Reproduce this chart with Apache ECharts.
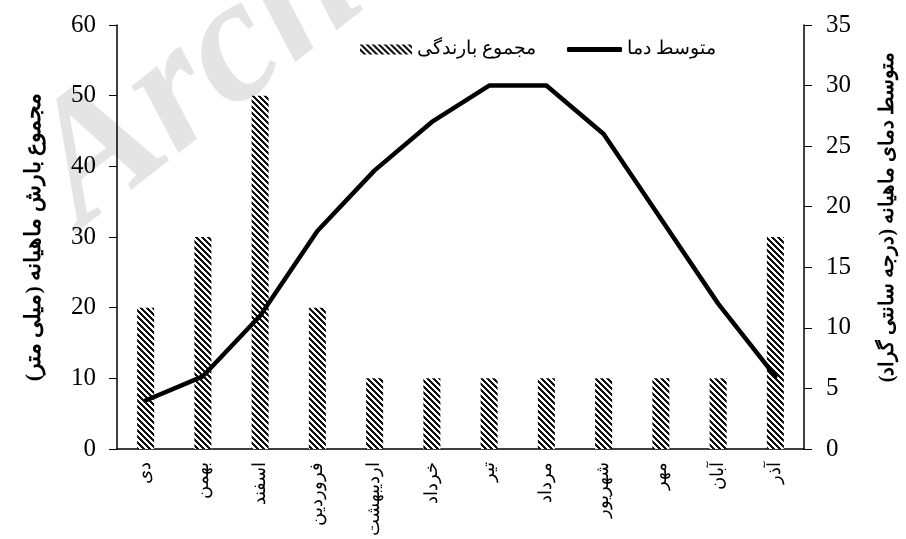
<!DOCTYPE html>
<html>
<head>
<meta charset="utf-8">
<script src="https://cdn.jsdelivr.net/npm/echarts@6/dist/echarts.min.js"></script>
<style>
html,body{margin:0;padding:0;background:#fff;}
#chart{width:906px;height:539px;}
</style>
</head>
<body>
<div id="chart"></div>
<script>
const months = ['دی','بهمن','اسفند','فروردین','اردیبهشت','خرداد','تیر','مرداد','شهریور','مهر','آبان','آذر'];
const rainfall = [20,30,50,20,10,10,10,10,10,10,10,30];
const temperature = [4,6,11,18,23,27,30,30,26,19,12,6];
const leftTicks = {min:0, max:60, interval:10};
const rightTicks = {min:0, max:35, interval:5};
const rainName = 'مجموع بارندگی';
const tempName = 'متوسط دما';
const leftTitle = 'مجموع بارش ماهیانه (میلی متر)';
const rightTitle = 'متوسط دمای ماهیانه (درجه سانتی گراد)';
const watermark = 'Archive';

function stripePattern(){
  const c = document.createElement('canvas');
  const n = 6;
  c.width = n; c.height = n;
  const ctx = c.getContext('2d');
  ctx.fillStyle = '#fff';
  ctx.fillRect(0,0,n,n);
  ctx.fillStyle = '#111';
  for (let y=0;y<n;y++){
    for (let x=0;x<n;x++){
      if ((((x - y) % n) + n) % n < 3) ctx.fillRect(x,y,1,1);
    }
  }
  return c;
}
const pat = stripePattern();

const chart = echarts.init(document.getElementById('chart'));
const serif = "'Liberation Serif', 'Times New Roman', serif";
chart.setOption({
  animation:false,
  backgroundColor:'#fff',
  textStyle:{fontFamily:serif},
  graphic:[{
    type:'text', x:108, y:262, rotation:0.66, z:-10, silent:true,
    style:{text:watermark, fill:'#e4e4e4', font:"italic bold 178px 'Liberation Serif'", textVerticalAlign:'bottom', textAlign:'left'}
  }],
  legend:[{
    left:360, top:40, padding:0, itemWidth:52, itemHeight:10,
    textStyle:{fontSize:19, color:'#000', fontFamily:serif},
    data:[{name:rainName, icon:'rect'}]
  },{
    left:567, top:40, padding:0, itemWidth:55, itemHeight:5,
    textStyle:{fontSize:19, color:'#000', fontFamily:serif},
    data:[{name:tempName, icon:'roundRect'}]
  }],
  grid:{left:117, right:93, top:25, bottom:84, containLabel:false},
  xAxis:{
    type:'category', data:months, boundaryGap:true,
    axisLine:{lineStyle:{color:'#000', width:1.5}},
    axisTick:{show:false},
    axisLabel:{rotate:90, fontSize:18, color:'#000', margin:13, interval:0, fontFamily:serif}
  },
  yAxis:[{
    type:'value', min:leftTicks.min, max:leftTicks.max, interval:leftTicks.interval,
    position:'left',
    splitLine:{show:false},
    axisLine:{show:true, lineStyle:{color:'#000', width:1.5}},
    axisTick:{show:true, length:8, lineStyle:{color:'#000'}},
    axisLabel:{fontSize:25, color:'#000', margin:21, fontFamily:serif},
    name:leftTitle, nameLocation:'middle', nameRotate:90, nameGap:72,
    nameTextStyle:{fontSize:22, fontWeight:'bold', color:'#000', fontFamily:serif}
  },{
    type:'value', min:rightTicks.min, max:rightTicks.max, interval:rightTicks.interval,
    position:'right',
    splitLine:{show:false},
    axisLine:{show:true, lineStyle:{color:'#000', width:1.5}},
    axisTick:{show:true, length:8, lineStyle:{color:'#000'}},
    axisLabel:{fontSize:25, color:'#000', margin:22, fontFamily:serif},
    name:rightTitle, nameLocation:'middle', nameRotate:90, nameGap:74,
    nameTextStyle:{fontSize:20, fontWeight:'bold', color:'#000', fontFamily:serif, padding:[0,0,0,40]}
  }],
  series:[{
    name:rainName, type:'bar', yAxisIndex:0, data:rainfall, barWidth:17,
    itemStyle:{color:{image:pat, repeat:'repeat'}}
  },{
    name:tempName, type:'line', yAxisIndex:1, data:temperature,
    smooth:false, showSymbol:false, symbol:'none',
    lineStyle:{color:'#000', width:4.5, join:'round', cap:'round'}, itemStyle:{color:'#000'}
  }]
});
</script>
</body>
</html>
